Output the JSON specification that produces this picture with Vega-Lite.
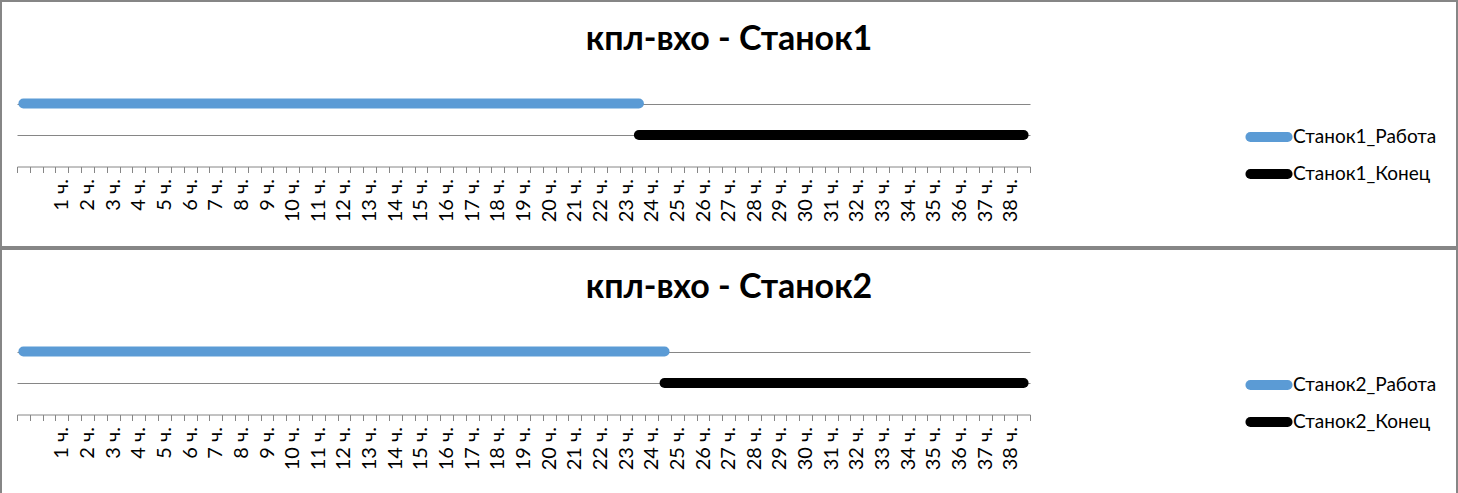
{
  "$schema": "https://vega.github.io/schema/vega-lite/v6.json",
  "background": "white",
  "padding": 0,
  "autosize": {"type": "pad"},
  "config": {
    "view": {"stroke": "#868686", "strokeWidth": 2},
    "concat": {"spacing": 0},
    "font": "Lato"
  },
  "datasets": {
    "p1": [
      {"s": "Станок1_Работа", "h": -0.5, "v": 2},
      {"s": "Станок1_Работа", "h": 23.5, "v": 2},
      {"s": "Станок1_Конец", "h": 23.5, "v": 1},
      {"s": "Станок1_Конец", "h": 38.5, "v": 1}
    ],
    "p2": [
      {"s": "Станок2_Работа", "h": -0.5, "v": 2},
      {"s": "Станок2_Работа", "h": 24.5, "v": 2},
      {"s": "Станок2_Конец", "h": 24.5, "v": 1},
      {"s": "Станок2_Конец", "h": 38.5, "v": 1}
    ]
  },
  "spacing": 0,
  "resolve": {"scale": {"color": "independent"}, "legend": {"color": "independent"}},
  "vconcat": [
    {
      "width": 1456,
      "height": 246,
      "title": {"text": "кпл-вхо - Станок1", "font": "Lato", "fontSize": 34, "fontWeight": "bold", "color": "#000000", "anchor": "middle", "offset": -83, "baseline": "alphabetic"},
      "data": {"name": "p1"},
      "layer": [
        {
          "transform": [{"filter": "datum.v == 2"}],
          "mark": {"type": "line", "strokeWidth": 10, "strokeCap": "round"},
          "encoding": {
            "x": {"field": "h", "type": "quantitative",
              "scale": {"domain": [-0.75, 38.75], "range": [16, 1029], "nice": false, "zero": false},
              "axis": {"orient": "bottom", "values": [1,2,3,4,5,6,7,8,9,10,11,12,13,14,15,16,17,18,19,20,21,22,23,24,25,26,27,28,29,30,31,32,33,34,35,36,37,38],
                "labelExpr": "datum.value + ' ч.'", "ticks": false, "domain": false, "grid": false, "labelAngle": -90,
                "labelFont": "Lato", "labelFontSize": 20, "labelColor": "#000000", "labelPadding": 12, "offset": -80.5,
                "title": null, "labelOverlap": false, "labelBound": false, "labelFlush": false}},
            "y": {"field": "v", "type": "quantitative",
              "scale": {"domain": [0, 2], "range": [165.5, 102.5], "nice": false, "zero": false},
              "axis": {"values": [1, 2], "grid": true, "gridColor": "#868686", "gridWidth": 1, "gridOpacity": 1, "domain": false, "ticks": false, "labels": false, "title": null}},
            "color": {"field": "s", "type": "nominal",
              "scale": {"domain": ["Станок1_Работа", "Станок1_Конец"], "range": ["#5B9BD5", "#000000"]},
              "legend": {"orient": "none", "legendX": 1258, "legendY": 126, "title": null, "symbolType": "M-4,0H4", "symbolStrokeWidth": 10, "symbolSize": 86, "labelFont": "Lato", "labelFontSize": 19, "labelColor": "#000000", "labelOffset": 14, "rowPadding": -3,
                "encoding": {"symbols": {"strokeCap": {"value": "round"}}}}}
          }
        },
        {
          "transform": [{"filter": "datum.v == 1"}],
          "mark": {"type": "line", "strokeWidth": 10, "strokeCap": "round"},
          "encoding": {
            "x": {"field": "h", "type": "quantitative",
              "axis": {"orient": "bottom", "values": [-0.75,-0.25,0.25,0.75,1.25,1.75,2.25,2.75,3.25,3.75,4.25,4.75,5.25,5.75,6.25,6.75,7.25,7.75,8.25,8.75,9.25,9.75,10.25,10.75,11.25,11.75,12.25,12.75,13.25,13.75,14.25,14.75,15.25,15.75,16.25,16.75,17.25,17.75,18.25,18.75,19.25,19.75,20.25,20.75,21.25,21.75,22.25,22.75,23.25,23.75,24.25,24.75,25.25,25.75,26.25,26.75,27.25,27.75,28.25,28.75,29.25,29.75,30.25,30.75,31.25,31.75,32.25,32.75,33.25,33.75,34.25,34.75,35.25,35.75,36.25,36.75,37.25,37.75,38.25,38.75],
                "labels": false, "domain": true, "domainColor": "#868686", "domainWidth": 1, "ticks": true, "tickColor": "#868686", "tickWidth": 1, "tickSize": 6, "grid": false, "offset": -80.5, "title": null}},
            "y": {"field": "v", "type": "quantitative"},
            "color": {"field": "s", "type": "nominal"}
          }
        }
      ],
      "resolve": {"axis": {"x": "independent"}}
    },
    {
      "width": 1456,
      "height": 245,
      "title": {"text": "кпл-вхо - Станок2", "font": "Lato", "fontSize": 34, "fontWeight": "bold", "color": "#000000", "anchor": "middle", "offset": -83, "baseline": "alphabetic"},
      "data": {"name": "p2"},
      "layer": [
        {
          "transform": [{"filter": "datum.v == 2"}],
          "mark": {"type": "line", "strokeWidth": 10, "strokeCap": "round"},
          "encoding": {
            "x": {"field": "h", "type": "quantitative",
              "scale": {"domain": [-0.75, 38.75], "range": [16, 1029], "nice": false, "zero": false},
              "axis": {"orient": "bottom", "values": [1,2,3,4,5,6,7,8,9,10,11,12,13,14,15,16,17,18,19,20,21,22,23,24,25,26,27,28,29,30,31,32,33,34,35,36,37,38],
                "labelExpr": "datum.value + ' ч.'", "ticks": false, "domain": false, "grid": false, "labelAngle": -90,
                "labelFont": "Lato", "labelFontSize": 20, "labelColor": "#000000", "labelPadding": 12, "offset": -79.5,
                "title": null, "labelOverlap": false, "labelBound": false, "labelFlush": false}},
            "y": {"field": "v", "type": "quantitative",
              "scale": {"domain": [0, 2], "range": [165.5, 102.5], "nice": false, "zero": false},
              "axis": {"values": [1, 2], "grid": true, "gridColor": "#868686", "gridWidth": 1, "gridOpacity": 1, "domain": false, "ticks": false, "labels": false, "title": null}},
            "color": {"field": "s", "type": "nominal",
              "scale": {"domain": ["Станок2_Работа", "Станок2_Конец"], "range": ["#5B9BD5", "#000000"]},
              "legend": {"orient": "none", "legendX": 1258, "legendY": 126, "title": null, "symbolType": "M-4,0H4", "symbolStrokeWidth": 10, "symbolSize": 86, "labelFont": "Lato", "labelFontSize": 19, "labelColor": "#000000", "labelOffset": 14, "rowPadding": -3,
                "encoding": {"symbols": {"strokeCap": {"value": "round"}}}}}
          }
        },
        {
          "transform": [{"filter": "datum.v == 1"}],
          "mark": {"type": "line", "strokeWidth": 10, "strokeCap": "round"},
          "encoding": {
            "x": {"field": "h", "type": "quantitative",
              "axis": {"orient": "bottom", "values": [-0.75,-0.25,0.25,0.75,1.25,1.75,2.25,2.75,3.25,3.75,4.25,4.75,5.25,5.75,6.25,6.75,7.25,7.75,8.25,8.75,9.25,9.75,10.25,10.75,11.25,11.75,12.25,12.75,13.25,13.75,14.25,14.75,15.25,15.75,16.25,16.75,17.25,17.75,18.25,18.75,19.25,19.75,20.25,20.75,21.25,21.75,22.25,22.75,23.25,23.75,24.25,24.75,25.25,25.75,26.25,26.75,27.25,27.75,28.25,28.75,29.25,29.75,30.25,30.75,31.25,31.75,32.25,32.75,33.25,33.75,34.25,34.75,35.25,35.75,36.25,36.75,37.25,37.75,38.25,38.75],
                "labels": false, "domain": true, "domainColor": "#868686", "domainWidth": 1, "ticks": true, "tickColor": "#868686", "tickWidth": 1, "tickSize": 6, "grid": false, "offset": -79.5, "title": null}},
            "y": {"field": "v", "type": "quantitative"},
            "color": {"field": "s", "type": "nominal"}
          }
        }
      ],
      "resolve": {"axis": {"x": "independent"}}
    }
  ]
}
